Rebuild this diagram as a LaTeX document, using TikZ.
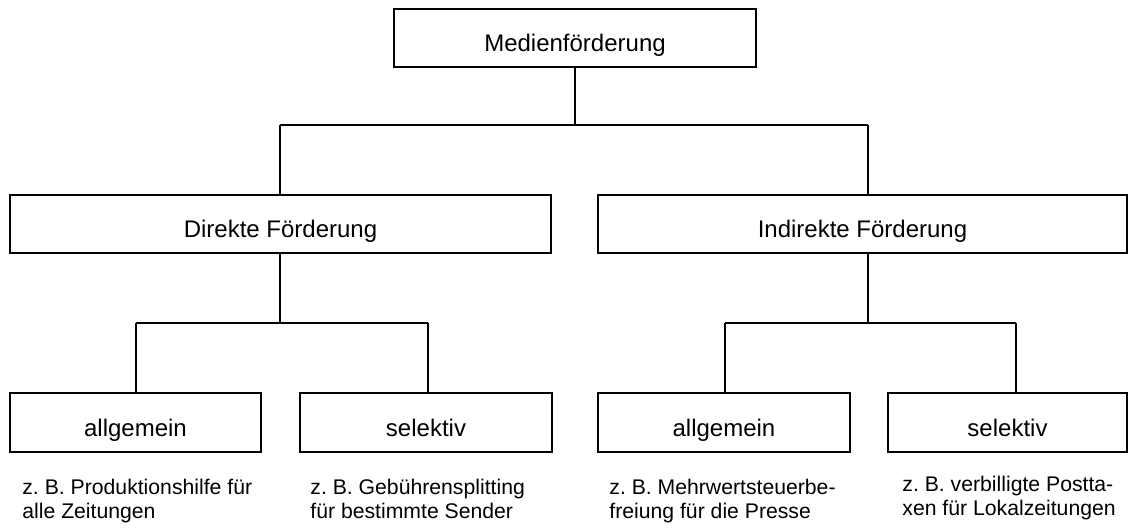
\documentclass[tikz,border=0pt]{standalone}
\usepackage{fontspec}
\setmainfont{Liberation Sans}
\begin{document}
\frenchspacing
\begin{tikzpicture}[x=0.5pt,y=-0.5pt,
  box/.style={draw,line width=1pt,inner sep=0pt,font=\fontsize{12}{14}\selectfont,
    text height=1.5em,text depth=0.1em,minimum height=29pt},
  captxt/.style={inner sep=0pt,anchor=base west,align=left,font=\fontsize{10.6}{12}\selectfont},
  conn/.style={line width=1pt}]
\useasboundingbox (0,0) rectangle (1131,529);
% boxes
\node[box,minimum width=181pt] (top) at (575,38) {Medienförderung};
\node[box,minimum width=270.5pt] (dir) at (280.5,224) {Direkte Förderung};
\node[box,minimum width=264.5pt] (ind) at (862.5,224) {Indirekte Förderung};
\node[box,minimum width=125.5pt,minimum height=29.5pt] (dall) at (135.5,422.5) {allgemein};
\node[box,minimum width=126pt,minimum height=29.5pt] (dsel) at (426,422.5) {selektiv};
\node[box,minimum width=126pt,minimum height=29.5pt] (iall) at (724,422.5) {allgemein};
\node[box,minimum width=119.5pt,minimum height=29.5pt] (isel) at (1007.5,422.5) {selektiv};
% junctions
\coordinate (j0) at (575,125);
\coordinate (j0l) at (280,125);
\coordinate (j0r) at (868,125);
\coordinate (j1) at (280,323);
\coordinate (j1l) at (136,323);
\coordinate (j1r) at (428,323);
\coordinate (j2) at (868,323);
\coordinate (j2l) at (725,323);
\coordinate (j2r) at (1016,323);
% connectors
\draw[conn] (top.south) -- (j0);
\draw[conn] (j0l) -- (j0r);
\draw[conn] (j0l) -- (j0l |- dir.north);
\draw[conn] (j0r) -- (j0r |- ind.north);
\draw[conn] (j1 |- dir.south) -- (j1);
\draw[conn] (j1l) -- (j1r);
\draw[conn] (j1l) -- (j1l |- dall.north);
\draw[conn] (j1r) -- (j1r |- dsel.north);
\draw[conn] (j2 |- ind.south) -- (j2);
\draw[conn] (j2l) -- (j2r);
\draw[conn] (j2l) -- (j2l |- iall.north);
\draw[conn] (j2r) -- (j2r |- isel.north);
% captions
\node[captxt] (c1) at (22,518.5) {z. B. Produktionshilfe für\\alle Zeitungen};
\node[captxt] (c2) at (310,518.5) {z. B. Gebührensplitting\\für bestimmte Sender};
\node[captxt] (c3) at (609,518.5) {z. B. Mehrwertsteuerbe-\\freiung für die Presse};
\node[captxt] (c4) at (902,516) {z. B. verbilligte Postta-\\xen für Lokalzeitungen};
\end{tikzpicture}
\end{document}
